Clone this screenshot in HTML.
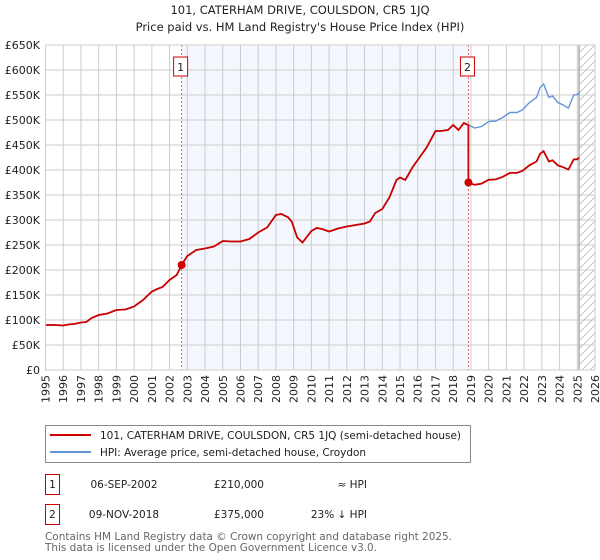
<!DOCTYPE html>
<html><head><meta charset="utf-8">
<style>
body{margin:0;background:#fff;font-family:"DejaVu Sans","Liberation Sans",sans-serif;}
#wrap{position:relative;width:600px;height:560px;overflow:hidden;}
svg text{font-family:"DejaVu Sans","Liberation Sans",sans-serif;}
</style></head>
<body><div id="wrap">
<svg id="chart" width="600" height="560"></svg>
</div>
<script>
const yearTicks=[1995,1996,1997,1998,1999,2000,2001,2002,2003,2004,2005,2006,2007,2008,2009,2010,2011,2012,2013,2014,2015,2016,2017,2018,2019,2020,2021,2022,2023,2024,2025,2026];
const valueTicks=[0,50,100,150,200,250,300,350,400,450,500,550,600,650];
const valueLabels=["£0","£50K","£100K","£150K","£200K","£250K","£300K","£350K","£400K","£450K","£500K","£550K","£600K","£650K"];
const hpiDates=[1995,1995.5,1996,1996.3,1996.6,1997,1997.3,1997.6,1998,1998.5,1999,1999.5,2000,2000.5,2001,2001.3,2001.6,2002,2002.4,2002.68,2003,2003.5,2004,2004.5,2005,2005.5,2006,2006.5,2007,2007.5,2007.8,2008,2008.3,2008.7,2008.9,2009.2,2009.5,2010,2010.3,2010.6,2011,2011.5,2012,2012.5,2013,2013.3,2013.6,2014,2014.4,2014.8,2015,2015.3,2015.7,2016,2016.5,2017,2017.3,2017.7,2018,2018.3,2018.6,2018.86,2019.2,2019.6,2020,2020.4,2020.8,2021.2,2021.6,2021.9,2022.3,2022.7,2022.9,2023.1,2023.4,2023.6,2023.9,2024.2,2024.5,2024.8,2025.0,2025.1];
const hpiValues=[90,90,89,91,92,95,96,104,110,113,120,121,127,140,157,162,166,180,190,210,228,240,243,247,258,257,257,262,275,285,300,310,312,305,296,265,255,278,284,282,277,283,287,290,293,297,314,322,345,380,385,380,405,420,445,478,478,480,490,480,494,490,484,487,497,498,505,515,515,520,535,545,565,572,545,548,535,530,524,550,551,555];
const saleDates=[2002.68,2018.86];
const salePrices=[210,375];
const saleLabels=["1","2"];
const X0=45.5,X1=595,Y0=370,Y1=45;
const x=d=>X0+(d-1995)*(X1-X0)/31;
const y=v=>Y0-v*(Y0-Y1)/650;
const svg=document.getElementById('chart');
const NS='http://www.w3.org/2000/svg';
function mk(tag,attrs,parent){const e=document.createElementNS(NS,tag);for(const k in attrs)e.setAttribute(k,attrs[k]);(parent||svg).appendChild(e);return e;}
const defs=mk('defs',{});
const pat=mk('pattern',{id:'hatch',width:8,height:8,patternUnits:'userSpaceOnUse'},defs);
mk('path',{d:'M0,8 L8,0',stroke:'#bbb','stroke-width':0.8},pat);
let t=mk('text',{x:300,y:14,'text-anchor':'middle','font-size':11.5,fill:'#222'});t.textContent='101, CATERHAM DRIVE, COULSDON, CR5 1JQ';

t=mk('text',{x:300,y:31,'text-anchor':'middle','font-size':11.5,fill:'#222'});t.textContent="Price paid vs. HM Land Registry's House Price Index (HPI)";

let r=mk('rect',{x:x(saleDates[0]),y:Y1,width:x(saleDates[1])-x(saleDates[0]),height:Y0-Y1,fill:'#eef3fc',opacity:0.65});

r=mk('rect',{x:x(2025.1),y:Y1,width:X1-x(2025.1),height:Y0-Y1,fill:'url(#hatch)'});

yearTicks.forEach(yr=>{const l=mk('line',{x1:x(yr),x2:x(yr),y1:Y1,y2:Y0,stroke:'#ccc','stroke-width':1});

const tx=mk('text',{transform:`translate(${x(yr)+4},${Y0+5}) rotate(-90)`,'text-anchor':'end','font-size':11,fill:'#222'});tx.textContent=yr;
});
valueTicks.forEach((v,i)=>{const l=mk('line',{x1:X0,x2:X1,y1:y(v),y2:y(v),stroke:'#ccc','stroke-width':1});

const tx=mk('text',{x:40,y:y(v)+4,'text-anchor':'end','font-size':11,fill:'#222'});tx.textContent=valueLabels[i];
});
let l=mk('line',{x1:x(2025.1),x2:x(2025.1),y1:Y1,y2:Y0,stroke:'#999','stroke-width':1.2});

saleDates.forEach((d,i)=>{const vl=mk('line',{x1:x(d),x2:x(d),y1:Y1,y2:Y0,stroke:'#e06060','stroke-width':1,'stroke-dasharray':'2,2'});

const b=mk('rect',{x:x(d)-8,y:57,width:14,height:19,fill:'#fff',stroke:'#c00','stroke-width':1});

const bt=mk('text',{x:x(d)-1,y:71,'text-anchor':'middle','font-size':11,fill:'#222'});bt.textContent=saleLabels[i];
});
const hp=hpiDates.map((d,i)=>x(d).toFixed(1)+','+y(hpiValues[i]).toFixed(1)).join(' ');
let p=mk('polyline',{points:hp,fill:'none',stroke:'#6495d6','stroke-width':1.4});

function hpiAt(d){for(let i=1;i<hpiDates.length;i++){if(d<=hpiDates[i]){const f=(d-hpiDates[i-1])/(hpiDates[i]-hpiDates[i-1]);return hpiValues[i-1]+f*(hpiValues[i]-hpiValues[i-1]);}}return hpiValues[hpiValues.length-1];}
const pts=[];
const r1=salePrices[0]/hpiAt(saleDates[0]),r2=salePrices[1]/hpiAt(saleDates[1]);
hpiDates.forEach((d,i)=>{if(d<=saleDates[1])pts.push([d,hpiValues[i]*r1]);});
pts.push([saleDates[1],salePrices[1]]);
hpiDates.forEach((d,i)=>{if(d>saleDates[1])pts.push([d,hpiValues[i]*r2]);});
p=mk('polyline',{points:pts.map(q=>x(q[0]).toFixed(1)+','+y(q[1]).toFixed(1)).join(' '),fill:'none',stroke:'#cc0000','stroke-width':1.8});

saleDates.forEach((d,i)=>{const c=mk('circle',{cx:x(d),cy:y(salePrices[i]),r:4,fill:'#cc0000'});
});
r=mk('rect',{x:X0,y:Y1,width:X1-X0,height:Y0-Y1,fill:'none',stroke:'#ccc','stroke-width':1});

const lg=mk('g',{});
mk('rect',{x:45.5,y:425.5,width:425,height:37,fill:'#fff',stroke:'#888','stroke-width':1},lg);
let ll=mk('line',{x1:50,x2:91,y1:435,y2:435,stroke:'#cc0000','stroke-width':2},lg);

t=mk('text',{x:100,y:439,'font-size':10.5,fill:'#222',textLength:361,lengthAdjust:'spacingAndGlyphs'},lg);t.textContent='101, CATERHAM DRIVE, COULSDON, CR5 1JQ (semi-detached house)';

ll=mk('line',{x1:50,x2:91,y1:452,y2:452,stroke:'#6495d6','stroke-width':2},lg);

t=mk('text',{x:100,y:456,'font-size':10.5,fill:'#222',textLength:266,lengthAdjust:'spacingAndGlyphs'},lg);t.textContent='HPI: Average price, semi-detached house, Croydon';

const rows=[["1","06-SEP-2002","£210,000","≈ HPI"],["2","09-NOV-2018","£375,000","23% ↓ HPI"]];
rows.forEach((rw,i)=>{const yy=484+i*30;
const g=mk('g',{});
mk('rect',{x:45.5,y:yy-9.5,width:14,height:20,fill:'#fff',stroke:'#c00','stroke-width':1},g);
let a=mk('text',{x:52.5,y:yy+4,'text-anchor':'middle','font-size':10.5,fill:'#222'},g);a.textContent=rw[0];
a=mk('text',{x:124,y:yy+4,'text-anchor':'middle','font-size':10.5,fill:'#222'},g);a.textContent=rw[1];
a=mk('text',{x:264,y:yy+4,'text-anchor':'end','font-size':10.5,fill:'#222'},g);a.textContent=rw[2];
a=mk('text',{x:367,y:yy+4,'text-anchor':'end','font-size':10.5,fill:'#222'},g);a.textContent=rw[3];});
t=mk('text',{x:45,y:540,'font-size':10.5,fill:'#666',textLength:407,lengthAdjust:'spacingAndGlyphs'});t.textContent='Contains HM Land Registry data © Crown copyright and database right 2025.';

t=mk('text',{x:45,y:551,'font-size':10.5,fill:'#666',textLength:332,lengthAdjust:'spacingAndGlyphs'});t.textContent='This data is licensed under the Open Government Licence v3.0.';

</script></body></html>
